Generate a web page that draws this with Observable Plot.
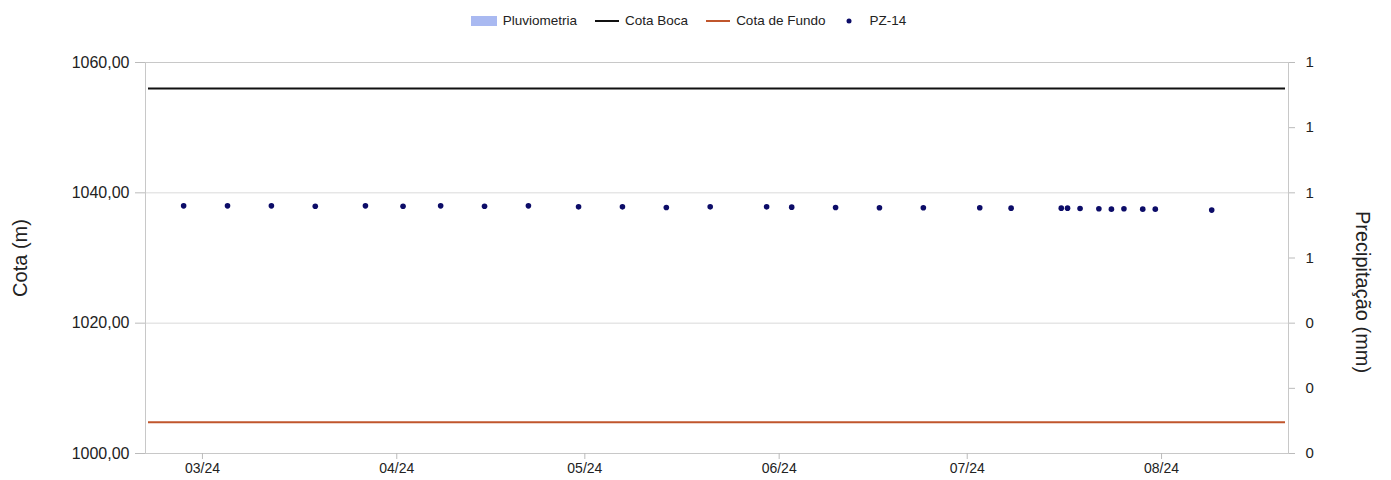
<!DOCTYPE html>
<html>
<head>
<meta charset="utf-8">
<script src="https://cdn.jsdelivr.net/npm/d3@7"></script>
<script src="https://cdn.jsdelivr.net/npm/@observablehq/plot@0.6"></script>
<style>
  body { margin: 0; background: #fff; font-family: "Liberation Sans", Arial, sans-serif; }
  #legend { height: 36px; display: flex; justify-content: center; align-items: center; padding-top: 5px; box-sizing: border-box; font-size: 13.5px; color: #222; padding-right: 14px; }
  .item { display: flex; align-items: center; margin: 0 9px; }
  .item svg { margin-right: 6px; }
</style>
</head>
<body>
<div id="legend"></div>
<div id="chart"></div>
<script>
// ---- data ----
const pzDates = ["2024-02-27","2024-03-05","2024-03-12","2024-03-19","2024-03-27","2024-04-02","2024-04-08","2024-04-15","2024-04-22","2024-04-30",
  "2024-05-07","2024-05-14","2024-05-21","2024-05-30","2024-06-03","2024-06-10","2024-06-17","2024-06-24","2024-07-03","2024-07-08",
  "2024-07-16","2024-07-17","2024-07-19","2024-07-22","2024-07-24","2024-07-26","2024-07-29","2024-07-31","2024-08-09"];
const pzValues = [1038.0,1038.0,1038.0,1037.95,1038.0,1037.95,1038.0,1037.95,1038.0,1037.85,
  1037.85,1037.75,1037.85,1037.85,1037.8,1037.75,1037.7,1037.7,1037.7,1037.65,
  1037.65,1037.65,1037.6,1037.55,1037.5,1037.55,1037.5,1037.5,1037.35];
const cotaBoca = 1056.0;
const cotaFundo = 1004.8;
const xDomain = ["2024-02-20T22:00Z", "2024-08-21T06:00Z"];
const xTicks = ["2024-03-01","2024-04-01","2024-05-01","2024-06-01","2024-07-01","2024-08-01"];
const yTicks = [1000, 1020, 1040, 1060];
const precipTicks = [0, 0.2, 0.4, 0.6, 0.8, 1.0, 1.2];
const seriesNames = ["Pluviometria", "Cota Boca", "Cota de Fundo", "PZ-14"];
const yLabel = "Cota (m)";
const y2Label = "Precipitação (mm)";

const colors = {"Pluviometria": "#a9b9f1", "Cota Boca": "#111111", "Cota de Fundo": "#c0562c", "PZ-14": "#0c0c68"};

// ---- legend ----
const legend = document.getElementById("legend");
seriesNames.forEach(name => {
  const it = document.createElement("div");
  it.className = "item";
  let sym;
  if (name === "Pluviometria") sym = `<svg width="26" height="10"><rect width="26" height="10" fill="${colors[name]}"/></svg>`;
  else if (name === "PZ-14") sym = `<svg width="20" height="10"><circle cx="6" cy="5" r="2.5" fill="${colors[name]}"/></svg>`;
  else sym = `<svg width="24" height="10"><line x1="0" x2="24" y1="5" y2="5" stroke="${colors[name]}" stroke-width="2"/></svg>`;
  it.innerHTML = sym + `<span>${name}</span>`;
  legend.appendChild(it);
});

// ---- chart ----
const pz = pzDates.map((d, i) => ({date: new Date(d), value: pzValues[i]}));
const fmtComma = d => d.toFixed(2).replace(".", ",");
const precipToCota = p => 1000 + p * 50;

const chart = Plot.plot({
  width: 1391,
  height: 444,
  marginLeft: 145,
  marginRight: 103,
  marginTop: 26,
  marginBottom: 27,
  style: {fontFamily: "'Liberation Sans', Arial, sans-serif", color: "#222", background: "#fff"},
  x: {type: "utc", domain: xDomain.map(d => new Date(d))},
  y: {domain: [1000, 1060]},
  marks: [
    Plot.ruleY(yTicks, {stroke: "#dadada"}),
    Plot.frame({stroke: "#c8c8c8"}),
    Plot.axisX({ticks: xTicks.map(d => new Date(d)), tickFormat: d3.utcFormat("%m/%y"), tickSize: 6, tickPadding: 4, fontSize: 14, label: null, stroke: "#bbb", fill: "#222"}),
    Plot.axisY({ticks: yTicks, tickFormat: fmtComma, tickSize: 10, tickPadding: 6, fontSize: 16, label: null, stroke: "#bbb", fill: "#222"}),
    Plot.axisY({anchor: "right", ticks: precipTicks.map(precipToCota), tickFormat: (d) => String(Math.round((d - 1000) / 50)), tickSize: 6, tickPadding: 11, fontSize: 15, label: null, stroke: "#bbb", fill: "#222"}),
    Plot.text([yLabel], {frameAnchor: "left", textAnchor: "middle", lineAnchor: "middle", dx: -125, dy: 0, rotate: -90, fontSize: 20, fill: "#222"}),
    Plot.text([y2Label], {frameAnchor: "right", textAnchor: "middle", lineAnchor: "middle", dx: 74, dy: 34, rotate: 90, fontSize: 20, fill: "#222"}),
    Plot.ruleY([cotaBoca], {stroke: colors["Cota Boca"], strokeWidth: 2, insetLeft: 3, insetRight: 3}),
    Plot.ruleY([cotaFundo], {stroke: colors["Cota de Fundo"], strokeWidth: 2, insetLeft: 3, insetRight: 3}),
    Plot.dot(pz, {x: "date", y: "value", r: 2.8, fill: colors["PZ-14"], stroke: "none"})
  ]
});
document.getElementById("chart").appendChild(chart);
</script>
</body>
</html>
